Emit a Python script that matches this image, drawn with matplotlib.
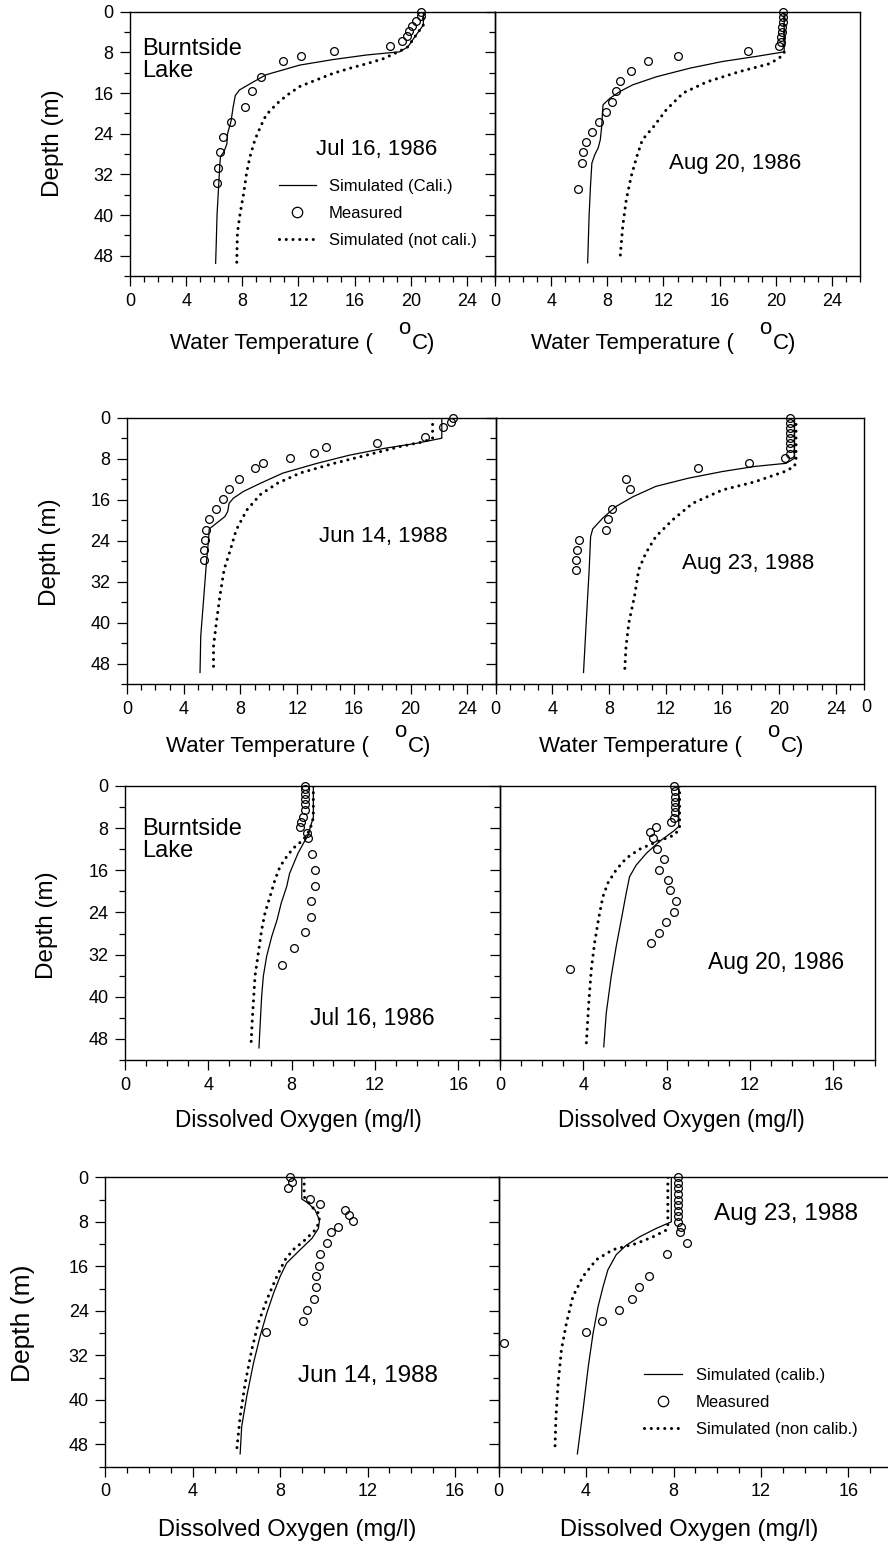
import matplotlib
matplotlib.use("Agg")
import matplotlib.pyplot as plt
from matplotlib.lines import Line2D
import numpy as np

# ---------------- data ----------------
# Panel 1: Water temperature, Jul 16, 1986
t1_obs_d = [0, 0.8, 1.8, 2.8, 3.7, 4.8, 5.8, 6.7, 7.8, 8.7, 9.7, 12.8, 15.7, 18.7, 21.7, 24.7, 27.7, 30.7, 33.7]
t1_obs_v = [20.7, 20.7, 20.4, 20.1, 19.9, 19.7, 19.4, 18.5, 14.5, 12.2, 10.9, 9.3, 8.7, 8.2, 7.2, 6.6, 6.4, 6.3, 6.2]
t1_cal_d = [0, 2.6, 4.9, 6.9, 7.9, 8.5, 9.4, 10.5, 12.4, 14.1, 15.4, 16.5, 18.7, 21.5, 22.5, 24, 26, 27.5, 28.5, 30, 35, 40, 45, 49.5]
t1_cal_v = [20.9, 20.9, 20.3, 19.8, 19.2, 16.9, 14.5, 12.1, 9.7, 8.6, 7.8, 7.5, 7.35, 7.2, 7.1, 6.95, 6.9, 6.7, 6.45, 6.4, 6.3, 6.2, 6.15, 6.1]
t1_nc_d = [0, 2.6, 4.9, 6.9, 7.5, 9.2, 10.2, 11.1, 12.1, 13.4, 14.7, 16.4, 18.0, 20.3, 22.6, 25.2, 28.5, 31.8, 35.7, 39.6, 43.5, 49.8]
t1_nc_v = [20.9, 20.9, 20.3, 19.8, 19.4, 18.1, 16.9, 15.7, 14.5, 13.3, 12.1, 11.2, 10.5, 9.7, 9.3, 8.9, 8.55, 8.3, 8.1, 7.85, 7.65, 7.6]

# Panel 2: Water temperature, Aug 20, 1986
t2_obs_d = [0, 1, 2, 3, 4, 5, 6, 6.7, 7.7, 8.7, 9.7, 11.7, 13.7, 15.7, 17.7, 19.7, 21.7, 23.7, 25.7, 27.7, 29.7, 34.8]
t2_obs_v = [20.5, 20.55, 20.5, 20.45, 20.45, 20.4, 20.4, 20.2, 18.0, 13.0, 10.9, 9.7, 8.9, 8.6, 8.3, 7.9, 7.4, 6.9, 6.5, 6.3, 6.2, 5.9]
t2_cal_d = [0, 7.9, 8.8, 9.8, 11.1, 12.8, 14.4, 15.7, 17.0, 18.3, 20.0, 22.6, 25.2, 26.8, 28.2, 29.8, 34.4, 40.3, 49.4]
t2_cal_v = [20.6, 20.6, 18.6, 16.2, 13.9, 11.5, 9.8, 8.9, 8.2, 7.7, 7.65, 7.6, 7.5, 7.35, 7.1, 6.9, 6.8, 6.7, 6.6]
t2_nc_d = [0, 8, 8.8, 10.2, 11.8, 13.8, 16.0, 19.3, 22.6, 25.2, 28.5, 32.4, 37, 42.2, 48.8]
t2_nc_v = [20.6, 20.6, 20.4, 19.6, 17.4, 15.1, 13.4, 12.2, 11.3, 10.5, 10.1, 9.7, 9.35, 9.1, 8.9]

# Panel 3: Water temperature, Jun 14, 1988
t3_obs_d = [0, 0.9, 1.9, 3.8, 4.9, 5.8, 6.8, 7.8, 8.9, 9.9, 11.9, 13.9, 15.9, 17.8, 19.8, 21.9, 23.8, 25.8, 27.8]
t3_obs_v = [23.0, 22.85, 22.3, 21.0, 17.6, 14.0, 13.2, 11.5, 9.6, 9.0, 7.9, 7.2, 6.75, 6.3, 5.8, 5.6, 5.5, 5.4, 5.4]
t3_cal_d = [0, 4.0, 5.0, 6.0, 7.3, 8.9, 10.8, 12.8, 14.4, 15.7, 16.7, 18.3, 19.3, 20.6, 21.7, 23.8, 28.3, 35.5, 42.6, 49.7]
t3_cal_v = [22.2, 22.2, 20.4, 18.1, 15.7, 13.4, 11.0, 9.4, 8.2, 7.5, 7.2, 7.1, 6.9, 6.3, 5.8, 5.75, 5.6, 5.4, 5.2, 5.15]
t3_nc_d = [0, 4.0, 4.7, 5.6, 7.3, 8.9, 10.8, 12.8, 15.0, 18.0, 21.9, 25.7, 29.6, 34.8, 40, 44.6, 48.8]
t3_nc_v = [21.55, 21.55, 20.9, 19.3, 16.9, 14.6, 12.2, 10.6, 9.4, 8.45, 7.7, 7.3, 6.85, 6.55, 6.3, 6.1, 6.1]

# Panel 4: Water temperature, Aug 23, 1988
t4_obs_d = [0, 1, 2, 3, 4, 5, 6, 7, 7.8, 8.9, 9.9, 11.9, 13.9, 17.8, 19.8, 21.9, 23.8, 25.9, 27.8, 29.8]
t4_obs_v = [20.8, 20.8, 20.8, 20.8, 20.8, 20.8, 20.8, 20.8, 20.4, 17.85, 14.25, 9.2, 9.5, 8.2, 7.9, 7.8, 5.9, 5.75, 5.65, 5.65]
t4_cal_d = [0, 7.9, 8.9, 9.5, 10.5, 11.8, 13.4, 15.4, 17.3, 19.6, 21.7, 23.2, 29.6, 39.4, 49.7]
t4_cal_v = [21.1, 21.1, 20.5, 18.3, 16.0, 13.6, 11.3, 9.7, 8.5, 7.55, 6.85, 6.7, 6.6, 6.4, 6.2]
t4_nc_d = [0, 8, 9.5, 10.5, 12.5, 14.1, 16.7, 19.9, 23.2, 26.4, 29.6, 34.8, 40, 44.6, 49.7]
t4_nc_v = [21.2, 21.2, 21.1, 20.4, 18.3, 16.0, 13.9, 12.5, 11.3, 10.6, 10.1, 9.8, 9.4, 9.2, 9.1]

# Panel 5: Dissolved oxygen, Jul 16, 1986
o1_obs_d = [0, 0.6, 1.6, 2.5, 3.5, 4.5, 5.8, 6.9, 7.8, 9.0, 9.9, 12.9, 15.9, 18.9, 21.9, 24.8, 27.8, 30.8, 33.9]
o1_obs_v = [8.65, 8.65, 8.65, 8.65, 8.65, 8.65, 8.56, 8.43, 8.4, 8.75, 8.8, 8.96, 9.14, 9.14, 8.94, 8.94, 8.66, 8.13, 7.54]
o1_cal_d = [0, 6, 7.7, 9.3, 10.9, 12.8, 14.7, 16.6, 19.1, 22.2, 25.4, 28.6, 32.3, 36.1, 39.9, 44.3, 49.7]
o1_cal_v = [9.04, 9.04, 8.9, 8.8, 8.56, 8.3, 8.1, 7.9, 7.76, 7.5, 7.3, 7.04, 6.8, 6.64, 6.56, 6.5, 6.43]
o1_nc_d = [0, 6, 8.3, 10.2, 11.8, 13.4, 15.3, 17.8, 21.0, 24.1, 27.3, 31.7, 36.1, 41.2, 45, 49.1]
o1_nc_v = [9.04, 9.04, 8.88, 8.56, 8.08, 7.76, 7.44, 7.2, 6.96, 6.72, 6.56, 6.4, 6.24, 6.16, 6.1, 6.05]

# Panel 6: Dissolved oxygen, Aug 20, 1986
o2_obs_d = [0, 1, 2, 3, 4, 5, 6, 6.9, 7.8, 8.8, 9.9, 11.9, 13.8, 15.9, 17.8, 19.8, 21.8, 23.9, 25.8, 27.9, 29.8, 34.8]
o2_obs_v = [8.35, 8.38, 8.38, 8.38, 8.38, 8.38, 8.35, 8.22, 7.47, 7.2, 7.34, 7.55, 7.86, 7.63, 8.05, 8.14, 8.43, 8.35, 7.95, 7.63, 7.23, 3.34]
o2_cal_d = [0, 7.7, 8.65, 10.5, 12.8, 15.0, 17.2, 20.3, 25.4, 30.4, 36.1, 43.1, 49.5]
o2_cal_v = [8.58, 8.58, 8.3, 7.66, 7.02, 6.54, 6.22, 6.06, 5.82, 5.58, 5.34, 5.1, 4.98]
o2_nc_d = [0, 8, 9.3, 9.9, 10.9, 12.0, 13.7, 15.9, 18.4, 21.0, 24.8, 29.8, 34.9, 41.2, 49.1]
o2_nc_v = [8.62, 8.62, 8.38, 7.98, 7.34, 6.7, 6.06, 5.58, 5.18, 4.94, 4.75, 4.54, 4.38, 4.26, 4.14]

# Panel 7: Dissolved oxygen, Jun 14, 1988
o3_obs_d = [0, 0.9, 1.9, 3.9, 4.8, 5.9, 6.8, 7.8, 8.9, 9.8, 11.8, 13.8, 15.9, 17.8, 19.8, 21.8, 23.8, 25.8, 27.8]
o3_obs_v = [8.43, 8.56, 8.34, 9.37, 9.83, 10.95, 11.15, 11.33, 10.67, 10.34, 10.15, 9.83, 9.76, 9.65, 9.65, 9.53, 9.25, 9.04, 7.34]
o3_cal_d = [0, 3.9, 4.7, 5.9, 7.7, 9.2, 11.0, 13.0, 15.4, 17.8, 20.8, 24.4, 28.6, 33.4, 39.4, 44.8, 49.7]
o3_cal_v = [8.99, 8.99, 9.3, 9.6, 9.8, 9.75, 9.45, 8.92, 8.3, 8.0, 7.7, 7.39, 7.08, 6.78, 6.47, 6.24, 6.17]
o3_nc_d = [0, 3.5, 5.3, 6.5, 8.0, 9.5, 11.5, 13.0, 14.8, 17.8, 22.0, 26.2, 31.0, 37.0, 43.0, 49.5]
o3_nc_v = [9.1, 9.1, 9.45, 9.77, 9.8, 9.6, 9.07, 8.6, 8.23, 7.85, 7.39, 7.0, 6.7, 6.4, 6.17, 6.0]

# Panel 8: Dissolved oxygen, Aug 23, 1988
o4_obs_d = [0, 1, 2, 3, 4, 5, 6, 7, 8, 8.9, 9.8, 11.8, 13.8, 17.8, 19.8, 21.8, 23.8, 25.8, 27.8, 29.8]
o4_obs_v = [8.2, 8.2, 8.2, 8.2, 8.2, 8.2, 8.2, 8.2, 8.2, 8.35, 8.3, 8.6, 7.7, 6.9, 6.42, 6.11, 5.5, 4.71, 4.0, 0.24]
o4_cal_d = [0, 8.0, 9.2, 10.7, 12.2, 13.9, 16.6, 19.6, 23.2, 28.0, 34.0, 41.8, 49.7]
o4_cal_v = [7.9, 7.9, 7.2, 6.45, 5.84, 5.38, 5.0, 4.78, 4.55, 4.32, 4.1, 3.86, 3.6]
o4_nc_d = [0, 9.0, 9.5, 10.7, 11.9, 13.0, 14.8, 17.8, 21.4, 26.2, 31.0, 37.0, 43.0, 49.3]
o4_nc_v = [7.74, 7.74, 7.66, 7.06, 6.3, 5.23, 4.47, 3.86, 3.4, 3.1, 2.87, 2.72, 2.62, 2.57]

depth_ticks = [0, 8, 16, 24, 32, 40, 48]
temp_ticks = [0, 4, 8, 12, 16, 20, 24]
do_ticks = [0, 4, 8, 12, 16]

dates = ["Jul 16, 1986", "Aug 20, 1986", "Jun 14, 1988", "Aug 23, 1988"]
legend_labels_t = ["Simulated (Cali.)", "Measured", "Simulated (not cali.)"]
legend_labels_o = ["Simulated (calib.)", "Measured", "Simulated (non calib.)"]

# ---------------- figure ----------------
W, H = 888, 1548
fig = plt.figure(figsize=(W / 100, H / 100), dpi=100)
REG = ["Liberation Sans", "DejaVu Sans"]

def fx(x):
    return x / W

def fy(y):
    return 1 - y / H

def add_ax(x0, x1, ytop, ybot):
    return fig.add_axes([fx(x0), fy(ybot), (x1 - x0) / W, (ybot - ytop) / H])

DOT = (0, (0.01, 2.2))
DOT_LW = 2.2

def panel(ax, cal, nc, obs, xmax, xticks, left):
    ax.plot(cal[1], cal[0], color="k", lw=0.9, solid_joinstyle="round")
    ax.plot(nc[1], nc[0], color="k", lw=DOT_LW, linestyle=DOT, dash_capstyle="round")
    ax.plot(obs[1], obs[0], "o", mfc="none", mec="k", ms=5.6, mew=0.9, clip_on=False, zorder=5)
    ax.set_xlim(0, xmax)
    ax.set_ylim(52, 0)
    ax.set_xticks(xticks)
    ax.set_xticks(np.arange(0, xmax + 0.5, 1), minor=True)
    ax.set_yticks(depth_ticks)
    ax.set_yticks(np.arange(4, 53, 8), minor=True)
    ax.tick_params(which="major", direction="out", length=7, width=0.9, pad=5, labelsize=13)
    ax.tick_params(which="minor", direction="out", length=4.3, width=0.9)
    for lab in ax.get_xticklabels() + ax.get_yticklabels():
        lab.set_family(REG)
    if not left:
        ax.set_yticklabels([])
    for s in ax.spines.values():
        s.set_linewidth(1.0)
    ax.patch.set_alpha(0)

def leg(ax, x, y, labels, handlelen):
    hs = [Line2D([], [], color="k", lw=0.9),
          Line2D([], [], ls="none", marker="o", mfc="none", mec="k", ms=7.5, mew=0.9),
          Line2D([], [], color="k", lw=DOT_LW, linestyle=DOT, dash_capstyle="round")]
    lg = ax.legend(hs, labels, loc="upper left", bbox_to_anchor=(fx(x), fy(y)),
                   bbox_transform=fig.transFigure, frameon=False, borderpad=0,
                   borderaxespad=0, handlelength=handlelen, handletextpad=0.8,
                   labelspacing=0.72, prop={"family": REG, "size": 12})
    return lg

def temp_xlabel(x, ybase, size=16):
    fig.text(fx(x), fy(ybase), "Water Temperature (", family=REG, size=size, ha="left", va="baseline")
    fig.text(fx(x + 228), fy(ybase - 15), "o", family=REG, size=size, ha="left", va="baseline")
    fig.text(fx(x + 242), fy(ybase), "C)", family=REG, size=size, ha="left", va="baseline")

def txt(x, y, s, size=16, ha="left", rot=0, ls=1.2):
    fig.text(fx(x), fy(y), s, family=REG, size=size, ha=ha, va="center", rotation=rot, linespacing=ls)

# Row 1
a1 = add_ax(130, 495, 11.7, 276)
a2 = add_ax(495, 860, 11.7, 276)
panel(a1, (t1_cal_d, t1_cal_v), (t1_nc_d, t1_nc_v), (t1_obs_d, t1_obs_v), 26, temp_ticks, True)
panel(a2, (t2_cal_d, t2_cal_v), (t2_nc_d, t2_nc_v), (t2_obs_d, t2_obs_v), 26, temp_ticks, False)
leg(a1, 279, 179, legend_labels_t, 2.2)

# Row 2
a3 = add_ax(127, 495.7, 417.7, 684.3)
a4 = add_ax(495.7, 864, 417.7, 684.3)
panel(a3, (t3_cal_d, t3_cal_v), (t3_nc_d, t3_nc_v), (t3_obs_d, t3_obs_v), 26, temp_ticks, True)
panel(a4, (t4_cal_d, t4_cal_v), (t4_nc_d, t4_nc_v), (t4_obs_d, t4_obs_v), 26, temp_ticks, False)

# Row 3
a5 = add_ax(125, 500, 786, 1060)
a6 = add_ax(500, 875, 786, 1060)
panel(a5, (o1_cal_d, o1_cal_v), (o1_nc_d, o1_nc_v), (o1_obs_d, o1_obs_v), 18, do_ticks, True)
panel(a6, (o2_cal_d, o2_cal_v), (o2_nc_d, o2_nc_v), (o2_obs_d, o2_obs_v), 18, do_ticks, False)

# Row 4 (right panel runs past the page edge)
a7 = add_ax(105.3, 498.7, 1177.3, 1466.7)
a8 = add_ax(498.7, 892, 1177.3, 1466.7)
panel(a7, (o3_cal_d, o3_cal_v), (o3_nc_d, o3_nc_v), (o3_obs_d, o3_obs_v), 18, do_ticks, True)
panel(a8, (o4_cal_d, o4_cal_v), (o4_nc_d, o4_nc_v), (o4_obs_d, o4_obs_v), 18, do_ticks, False)
leg(a8, 644, 1368, legend_labels_o, 2.3)

# stray tick label at far right of row 2
fig.text(fx(866), fy(708), "0", family=REG, size=13, ha="center", va="center")

# y labels
txt(53, 143, "Depth (m)", size=17.5, ha="center", rot=90)
txt(50, 552, "Depth (m)", size=17.5, ha="center", rot=90)
txt(47, 925, "Depth (m)", size=17.5, ha="center", rot=90)
txt(23, 1323, "Depth (m)", size=19, ha="center", rot=90)

# x labels
temp_xlabel(170, 349)
temp_xlabel(531, 349)
temp_xlabel(166, 752)
temp_xlabel(539, 752)
txt(298.5, 1120, "Dissolved Oxygen (mg/l)", size=16.3, ha="center")
txt(681, 1120, "Dissolved Oxygen (mg/l)", size=16.3, ha="center")
txt(287, 1530, "Dissolved Oxygen (mg/l)", size=17, ha="center")
txt(689, 1530, "Dissolved Oxygen (mg/l)", size=17, ha="center")

# annotations
txt(142, 60, "Burntside\nLake", size=17, ls=1.0)
txt(142, 840, "Burntside\nLake", size=17, ls=1.0)
txt(316, 150, dates[0], size=16)
txt(669, 163, dates[1], size=16)
txt(319, 537, dates[2], size=16)
txt(682, 563, dates[3], size=16)
txt(310, 1018, dates[0], size=16.5)
txt(708, 963, dates[1], size=16.5)
txt(298, 1376, dates[2], size=17.5)
txt(714, 1214, dates[3], size=17.5)

fig.savefig("out.png", dpi=100)
